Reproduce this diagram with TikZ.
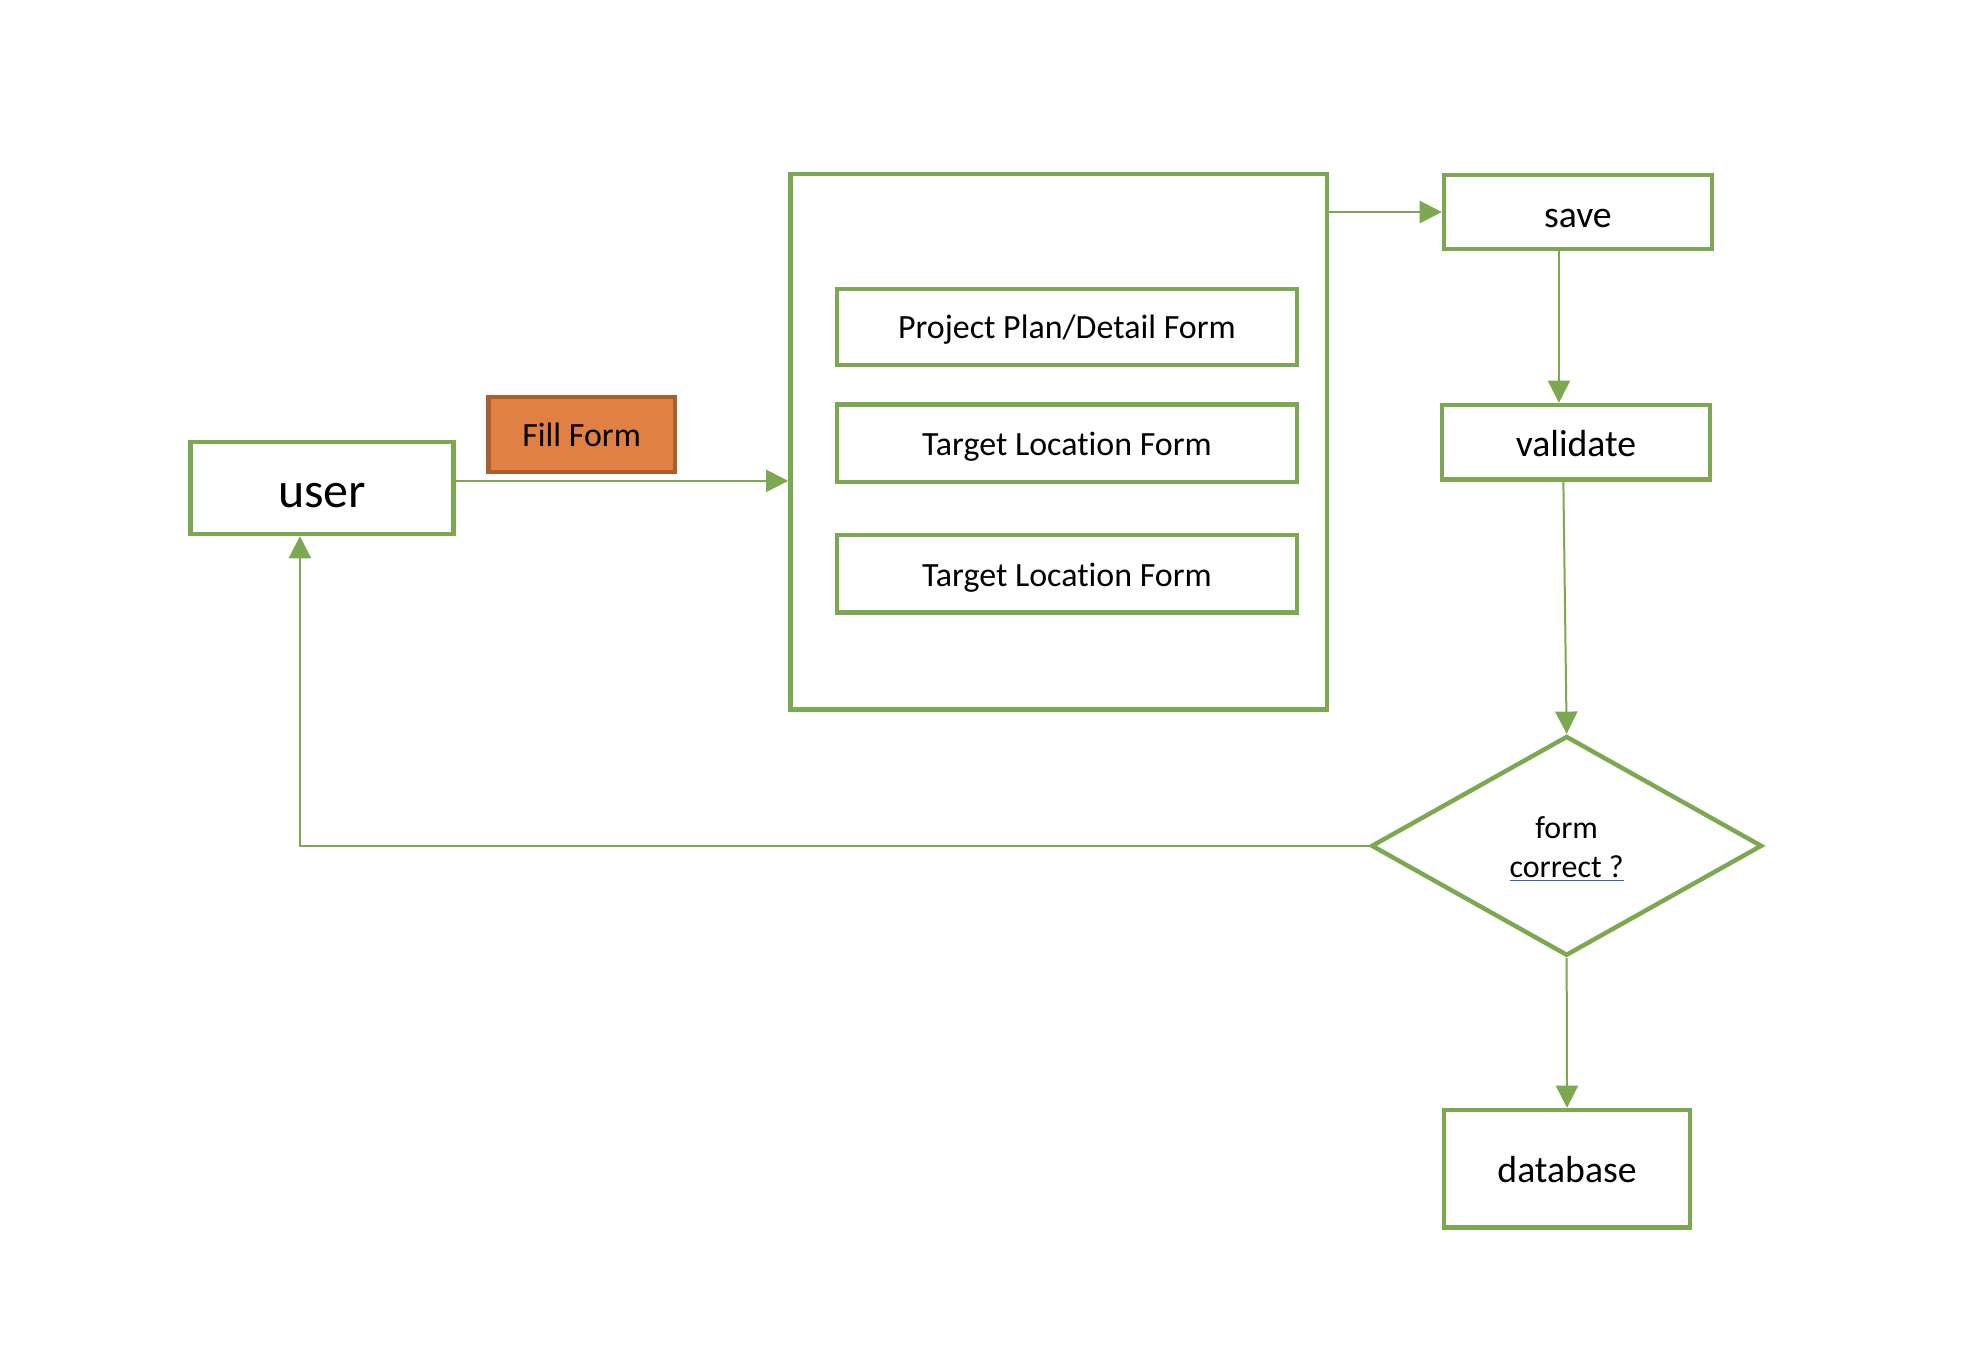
\documentclass[tikz,border=0pt]{standalone}
\usepackage{fontspec}
\setmainfont{Carlito}[Ligatures=NoCommon]
\usetikzlibrary{arrows.meta}
\usetikzlibrary{shapes.geometric}
\usetikzlibrary{calc}

\definecolor{leaf}{RGB}{123,168,80}
\definecolor{carrot}{RGB}{224,128,66}
\definecolor{rust}{RGB}{168,96,48}
\definecolor{linkblue}{RGB}{48,96,208}

\newcommand{\fsz}[1]{\fontsize{#1}{1.2\dimexpr#1pt\relax}\selectfont}

\tikzset{
  box/.style={draw=leaf,line width=2pt,fill=white,inner sep=0pt},
  lift/.style={text height=#1,text depth=0pt},
  flow/.style={leaf,line width=0.9pt,-{Triangle[length=10pt,width=10pt]}},
}

\begin{document}
\begin{tikzpicture}[x=0.02cm,y=-0.02cm]
\useasboundingbox (0,0) rectangle (1560,1071);

\node[box,lift=17.5pt,minimum width=4.16cm,minimum height=1.46cm] (user) at (255,386.3) {\fsz{22.5}user};
\node[draw=rust,fill=carrot,line width=2pt,lift=11.2pt,minimum width=2.95cm,minimum height=1.19cm] (fill) at (460.6,344) {\fsz{15.3}Fill Form};

\node[box,minimum width=8.5cm,minimum height=8.48cm] (panel) at (838.4,349.9) {};
\node[box,lift=10.6pt,minimum width=7.29cm,minimum height=1.21cm] (plan) at (844.9,258.9) {\fsz{15.3}Project Plan/Detail Form};
\node[box,lift=11pt,minimum width=7.29cm,minimum height=1.23cm] (loca) at (844.9,350.9) {\fsz{15.3}Target Location Form};
\node[box,lift=11pt,minimum width=7.29cm,minimum height=1.23cm] (locb) at (844.9,454.4) {\fsz{15.3}Target Location Form};

\node[box,lift=13.8pt,minimum width=4.24cm,minimum height=1.18cm] (save) at (1249.5,167.9) {\fsz{17}save};
\node[box,lift=12.8pt,minimum width=4.25cm,minimum height=1.18cm] (valid) at (1248,350.2) {\fsz{17}validate};
\node[box,diamond,minimum width=6.19cm,minimum height=3.48cm] (decide) at (1240.6,669.8)
  {\fsz{14.4}\raisebox{-2pt}[\height][\depth]{\begin{tabular}{@{}c@{}}form\\{\color{linkblue}\underline{\color{black}correct ?}}\end{tabular}}};
\node[box,lift=12pt,minimum width=3.9cm,minimum height=1.86cm] (db) at (1240.9,925.5) {\fsz{17}database};

% connectors
\draw[flow] ([yshift=0.11cm]user.east) -- ([yshift=0.11cm]user.east -| panel.west);
\draw[flow] (panel.east |- save.west) -- (save.west);
\draw[flow] ([xshift=-0.3cm]save.south) -- ([xshift=-0.3cm]save.south |- valid.north);
\draw[flow] ([xshift=-0.2cm]valid.south) -- (decide.north);
\draw[flow] (decide.west) -| ([xshift=-0.35cm]user.south);
\draw[flow] (decide.south) -- (db.north);

\end{tikzpicture}
\end{document}
